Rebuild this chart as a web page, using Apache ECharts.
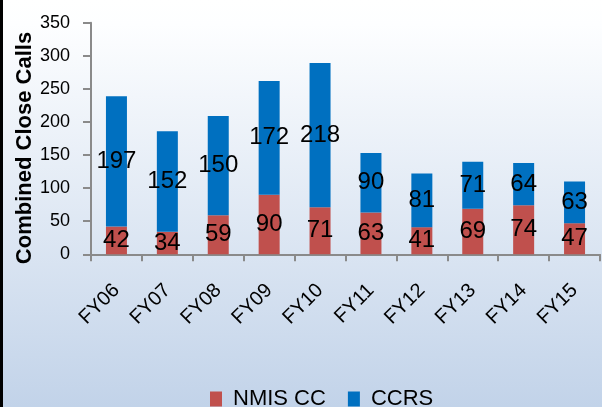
<!DOCTYPE html>
<html>
<head>
<meta charset="utf-8">
<script src="https://cdn.jsdelivr.net/npm/echarts@6/dist/echarts.min.js"></script>
<style>
html,body{margin:0;padding:0;}
#chart{width:602px;height:407px;}
</style>
</head>
<body>
<div id="chart"></div>
<script>
var categories = ['FY06','FY07','FY08','FY09','FY10','FY11','FY12','FY13','FY14','FY15'];
var nmisCC = [42, 34, 59, 90, 71, 63, 41, 69, 74, 47];
var ccrs = [197, 152, 150, 172, 218, 90, 81, 71, 64, 63];
var yTicks = [0, 50, 100, 150, 200, 250, 300, 350];
var seriesNames = ['NMIS CC', 'CCRS'];
var yAxisTitle = 'Combined Close Calls';

var FONT = '"Liberation Sans", Arial, sans-serif';
var chart = echarts.init(document.getElementById('chart'), null, {renderer: 'canvas'});
var labelStyle = {show: true, position: 'inside', color: '#000', fontSize: 24, fontFamily: FONT};
chart.setOption({
  backgroundColor: {
    type: 'linear', x: 0, y: 0, x2: 0, y2: 1,
    colorStops: [
      {offset: 0, color: '#ffffff'},
      {offset: 0.06, color: '#fdfeff'},
      {offset: 1, color: '#c2d3e9'}
    ]
  },
  animation: false,
  graphic: [
    {type: 'rect', left: 0, top: 0, shape: {width: 3, height: 407}, style: {fill: '#000'}},
    {type: 'text', x: 25, y: 148, rotation: Math.PI / 2,
     style: {text: yAxisTitle, fontSize: 22, fontWeight: 'bold', fontFamily: FONT, fill: '#000',
             align: 'center', verticalAlign: 'middle'}}
  ],
  grid: {left: 91, right: 2, top: 22.7, bottom: 152.7, containLabel: false},
  legend: {
    left: 205, top: 383,
    itemWidth: 12, itemHeight: 15, itemGap: 22,
    icon: 'rect',
    textStyle: {fontSize: 22, fontFamily: FONT, color: '#000', padding: [0, 0, 0, 6]},
    data: seriesNames
  },
  xAxis: {
    type: 'category',
    data: categories,
    axisLine: {lineStyle: {color: '#8a8a8a', width: 2}},
    axisTick: {show: true, alignWithLabel: false, length: 7, lineStyle: {color: '#8a8a8a', width: 2}},
    axisLabel: {rotate: 45, margin: 33, fontSize: 20, fontFamily: FONT, color: '#000', interval: 0}
  },
  yAxis: {
    type: 'value',
    min: yTicks[0], max: yTicks[yTicks.length - 1], interval: 50,
    axisLine: {show: true, lineStyle: {color: '#8a8a8a', width: 2}},
    axisTick: {show: true, length: 8, lineStyle: {color: '#8a8a8a', width: 2}},
    splitLine: {show: false},
    axisLabel: {margin: 21, fontSize: 18, fontFamily: FONT, color: '#000'}
  },
  series: [
    {name: seriesNames[0], type: 'bar', stack: 'total', data: nmisCC, barWidth: 21,
     itemStyle: {color: '#c0504d'}, label: labelStyle},
    {name: seriesNames[1], type: 'bar', stack: 'total', data: ccrs, barWidth: 21,
     itemStyle: {color: '#0070c0'}, label: labelStyle}
  ]
});
</script>
</body>
</html>
